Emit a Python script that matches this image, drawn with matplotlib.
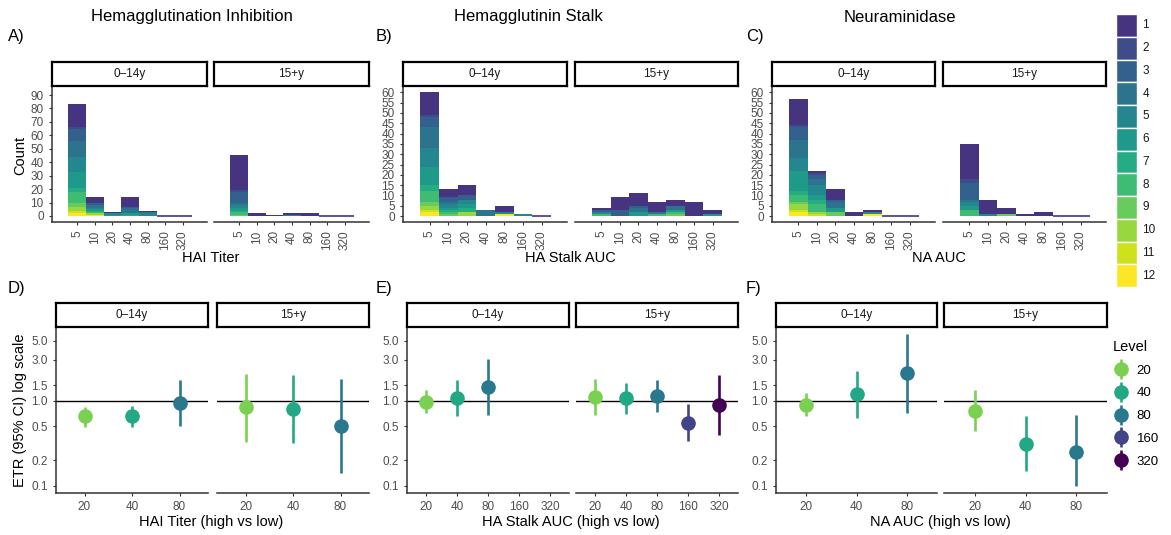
import numpy as np
import matplotlib
matplotlib.use("Agg")
import matplotlib.pyplot as plt
from matplotlib.lines import Line2D
from matplotlib.legend_handler import HandlerTuple

plt.rcParams['font.family'] = ['Liberation Sans', 'DejaVu Sans']

# ---- data -------------------------------------------------------------
bins = ["5", "10", "20", "40", "80", "160", "320"]
age_groups = ["0–14y", "15+y"]

# counts per bin, listed for levels 1..12
hai_child = [[17, 1, 9, 12, 11, 12, 3, 8, 3, 3, 2, 2],
             [4, 0, 2, 2, 1, 1, 1, 1, 0, 1, 0, 1],
             [1, 0, 0, 0, 1, 1, 0, 0, 0, 0, 0, 0],
             [7, 0, 1, 4, 0, 1, 1, 0, 0, 0, 0, 0],
             [1, 0, 0, 1, 2, 0, 0, 0, 0, 0, 0, 0],
             [0] * 12,
             [0] * 12]
hai_adult = [[26, 1, 8, 2, 2, 2, 1, 2, 1, 0, 0, 0],
             [2, 0, 0, 0, 0, 0, 0, 0, 0, 0, 0, 0],
             [1, 0, 0, 0, 0, 0, 0, 0, 0, 0, 0, 0],
             [1, 0, 0, 0, 1, 0, 0, 0, 0, 0, 0, 0],
             [2, 0, 0, 0, 0, 0, 0, 0, 0, 0, 0, 0],
             [0] * 12,
             [0] * 12]
stalk_child = [[11, 1, 5, 10, 9, 9, 3, 5, 2, 2, 1, 2],
               [4, 0, 2, 1, 2, 1, 1, 1, 1, 0, 0, 0],
               [5, 0, 2, 0, 2, 2, 2, 0, 0, 2, 0, 0],
               [0, 0, 0, 3, 0, 0, 0, 0, 0, 0, 0, 0],
               [3, 0, 0, 0, 1, 0, 0, 0, 0, 0, 0, 1],
               [0, 0, 0, 0, 1, 0, 0, 0, 0, 0, 0, 0],
               [0] * 12]
stalk_adult = [[1, 0, 1, 0, 1, 0, 0, 1, 0, 0, 0, 0],
               [6, 0, 3, 0, 0, 0, 0, 0, 0, 0, 0, 0],
               [6, 0, 1, 2, 0, 2, 0, 0, 0, 0, 0, 0],
               [5, 0, 0, 1, 0, 0, 0, 1, 0, 0, 0, 0],
               [3, 0, 0, 2, 0, 1, 0, 1, 1, 0, 0, 0],
               [7, 0, 0, 0, 0, 0, 0, 0, 0, 0, 0, 0],
               [2, 0, 0, 0, 0, 1, 0, 0, 0, 0, 0, 0]]
na_child = [[13, 1, 6, 9, 6, 10, 2, 3, 1, 3, 1, 2],
            [1, 1, 2, 3, 5, 2, 2, 4, 0, 1, 1, 0],
            [5, 0, 1, 3, 0, 2, 0, 0, 2, 0, 0, 0],
            [2, 0, 0, 0, 0, 0, 0, 0, 0, 0, 0, 0],
            [1, 0, 0, 0, 1, 0, 0, 0, 0, 0, 0, 1],
            [0] * 12,
            [0] * 12]
na_adult = [[17, 2, 8, 1, 2, 2, 0, 3, 0, 0, 0, 0],
            [7, 0, 0, 0, 1, 0, 0, 0, 0, 0, 0, 0],
            [3, 0, 0, 0, 0, 0, 0, 0, 1, 0, 0, 0],
            [1, 0, 0, 0, 0, 0, 0, 0, 0, 0, 0, 0],
            [2, 0, 0, 0, 0, 0, 0, 0, 0, 0, 0, 0],
            [0] * 12,
            [0] * 12]

# ETR estimates (95% CI) by level
hai_lv_child = ["20", "40", "80"]
hai_est_child = [0.65, 0.65, 0.93]
hai_lo_child = [0.49, 0.49, 0.51]
hai_hi_child = [0.83, 0.86, 1.74]
hai_lv_adult = ["20", "40", "80"]
hai_est_adult = [0.83, 0.79, 0.50]
hai_lo_adult = [0.33, 0.32, 0.14]
hai_hi_adult = [2.04, 1.97, 1.77]

stalk_lv_child = ["20", "40", "80"]
stalk_est_child = [0.97, 1.06, 1.45]
stalk_lo_child = [0.72, 0.65, 0.68]
stalk_hi_child = [1.33, 1.74, 3.05]
stalk_lv_adult = ["20", "40", "80", "160", "320"]
stalk_est_adult = [1.11, 1.06, 1.13, 0.55, 0.88]
stalk_lo_adult = [0.68, 0.70, 0.74, 0.34, 0.39]
stalk_hi_adult = [1.77, 1.59, 1.74, 0.91, 1.99]

na_lv_child = ["20", "40", "80"]
na_est_child = [0.88, 1.19, 2.08]
na_lo_child = [0.65, 0.63, 0.72]
na_hi_child = [1.21, 2.21, 5.94]
na_lv_adult = ["20", "40", "80"]
na_est_adult = [0.76, 0.31, 0.25]
na_lo_adult = [0.44, 0.15, 0.10]
na_hi_adult = [1.33, 0.66, 0.68]

levels = [str(i) for i in range(1, 13)]
etr_levels = ["20", "40", "80", "160", "320"]

# ---- styling ----------------------------------------------------------
vir = matplotlib.colormaps['viridis']
level_colors = [vir(v) for v in np.linspace(0.15, 1.0, 12)]
etr_colors = dict(zip(etr_levels, [vir(v) for v in [0.8, 0.6, 0.4, 0.2, 0.0]]))

W, H = 1171, 535
fig = plt.figure(figsize=(W / 100, H / 100), dpi=100)
TXT = '#4D4D4D'
AX = '#333333'


def rect(x0, y0, x1, y1):
    return [x0 / W, 1 - y1 / H, (x1 - x0) / W, (y1 - y0) / H]


def style_axes(ax, show_y):
    for s in ['top', 'right']:
        ax.spines[s].set_visible(False)
    ax.spines['bottom'].set_color(AX)
    ax.spines['bottom'].set_linewidth(1.1)
    ax.spines['left'].set_color(AX)
    ax.spines['left'].set_linewidth(1.1)
    ax.tick_params(colors=AX, labelcolor=TXT, labelsize=8.5, length=2.5, width=0.8)
    if not show_y:
        ax.spines['left'].set_visible(False)
        ax.tick_params(axis='y', left=False, labelleft=False)


def strip(x0, x1, y0, y1, label):
    s = fig.add_axes(rect(x0, y0, x1, y1))
    s.set_xticks([])
    s.set_yticks([])
    s.set_facecolor('white')
    for sp in s.spines.values():
        sp.set_linewidth(1.6)
        sp.set_color('black')
    s.text(0.5, 0.5, label, ha='center', va='center', fontsize=8.5,
           color='#1A1A1A', transform=s.transAxes)


def hist_panel(x0, x1, counts, show_y, yticks, ylim):
    ax = fig.add_axes(rect(x0, 86, x1, 222))
    pos = np.arange(len(bins))
    arr = np.array(counts)
    bottom = np.zeros(len(bins))
    for lv in range(11, -1, -1):
        ax.bar(pos, arr[:, lv], width=1.0, bottom=bottom,
               color=level_colors[lv], linewidth=0)
        bottom += arr[:, lv]
    empty = arr.sum(axis=1) == 0
    ax.bar(pos[empty], np.zeros(empty.sum()), width=1.0,
           edgecolor=level_colors[0], linewidth=1.2)
    ax.set_xlim(-1.42, 7.36)
    ax.set_ylim(*ylim)
    ax.set_xticks(pos)
    ax.set_xticklabels(bins, rotation=90)
    ax.set_yticks(yticks)
    style_axes(ax, show_y)
    return ax


def etr_panel(x0, x1, cats, lv, est, lo, hi, show_y):
    ax = fig.add_axes(rect(x0, 327, x1, 493))
    xs = [cats.index(v) for v in lv]
    ax.axhline(1.0, color='black', linewidth=1.0, zorder=1)
    for x, l, e, a, b in zip(xs, lv, est, lo, hi):
        ax.vlines(x, a, b, color=etr_colors[l], linewidth=1.9, zorder=2)
        ax.plot(x, e, 'o', color=etr_colors[l], markersize=9.5, zorder=3)
    ax.set_yscale('log')
    ax.set_ylim(0.0828, 7.24)
    ax.set_xlim(-0.6, len(cats) - 0.4)
    ax.set_xticks(range(len(cats)))
    ax.set_xticklabels(cats)
    yt = [0.1, 0.2, 0.5, 1.0, 1.5, 3.0, 5.0]
    ax.set_yticks(yt)
    ax.set_yticklabels([f"{v:.1f}" for v in yt])
    ax.minorticks_off()
    style_axes(ax, show_y)
    return ax


# ---- top row: histograms ---------------------------------------------
top = [
    ("Hemagglutination Inhibition", "HAI Titer", hai_child, hai_adult,
     np.arange(0, 91, 10), (-4.47, 96.7), (52, 207, 214, 369), 192, 211, 8),
    ("Hemagglutinin Stalk", "HA Stalk AUC", stalk_child, stalk_adult,
     np.arange(0, 61, 5), (-2.9, 63.1), (403, 567, 575, 738), 528, 570, 376),
    ("Neuraminidase", "NA AUC", na_child, na_adult,
     np.arange(0, 61, 5), (-2.9, 63.1), (772, 935, 943, 1106), 900, 939, 746),
]
for k, (title, xlab, ch, ad, yt, yl, (a0, a1, b0, b1), tx, lx, tagx) in enumerate(top):
    hist_panel(a0, a1, ch, True, yt, yl)
    hist_panel(b0, b1, ad, False, yt, yl)
    strip(a0, a1, 62, 86, age_groups[0])
    strip(b0, b1, 62, 86, age_groups[1])
    fig.text(tx / W, 1 - 17 / H, title, ha='center', va='center', fontsize=12)
    fig.text(tagx / W, 1 - 36 / H, "ABC"[k] + ")", ha='left', va='center', fontsize=12)
    fig.text(lx / W, 1 - 258 / H, xlab, ha='center', va='center', fontsize=10.5)
fig.text(20 / W, 1 - 155 / H, "Count", rotation=90, ha='center', va='center', fontsize=10.5)

# ---- bottom row: ETR --------------------------------------------------
bottom_specs = [
    ("HAI Titer (high vs low)", ["20", "40", "80"],
     (hai_lv_child, hai_est_child, hai_lo_child, hai_hi_child),
     (hai_lv_adult, hai_est_adult, hai_lo_adult, hai_hi_adult),
     (56, 208, 217, 369), 211, 8),
    ("HA Stalk AUC (high vs low)", etr_levels,
     (stalk_lv_child, stalk_est_child, stalk_lo_child, stalk_hi_child),
     (stalk_lv_adult, stalk_est_adult, stalk_lo_adult, stalk_hi_adult),
     (407, 569, 576, 738), 571, 376),
    ("NA AUC (high vs low)", ["20", "40", "80"],
     (na_lv_child, na_est_child, na_lo_child, na_hi_child),
     (na_lv_adult, na_est_adult, na_lo_adult, na_hi_adult),
     (776, 937, 944, 1107), 940, 746),
]
for k, (xlab, cats, ch, ad, (a0, a1, b0, b1), lx, tagx) in enumerate(bottom_specs):
    etr_panel(a0, a1, cats, *ch, True)
    etr_panel(b0, b1, cats, *ad, False)
    strip(a0, a1, 303, 327, age_groups[0])
    strip(b0, b1, 303, 327, age_groups[1])
    fig.text(tagx / W, 1 - 288 / H, "DEF"[k] + ")", ha='left', va='center', fontsize=12)
    fig.text(lx / W, 1 - 522 / H, xlab, ha='center', va='center', fontsize=10.5)
fig.text(20 / W, 1 - 410 / H, "ETR (95% CI) log scale", rotation=90,
         ha='center', va='center', fontsize=10.5)

# ---- legends ----------------------------------------------------------
lg = fig.add_axes(rect(1116, 14, 1137, 287))
for i, lv in enumerate(levels):
    lg.bar(0, 1, bottom=i, width=1, color=level_colors[i], edgecolor='white', linewidth=1)
    lg.text(0.75, i + 0.5, lv, ha='left', va='center', fontsize=8.5, color='#1A1A1A',
            transform=lg.transData)
lg.set_xlim(-0.5, 0.5)
lg.set_ylim(12, 0)
lg.axis('off')

handles = [(Line2D([], [], marker='|', linestyle='none', markersize=15,
                   markeredgewidth=1.9, color=etr_colors[l]),
            Line2D([], [], marker='o', linestyle='none', markersize=9.5,
                   color=etr_colors[l])) for l in etr_levels]
leg = fig.legend(handles, etr_levels, loc='upper left',
                 bbox_to_anchor=(1101 / W, 1 - 328 / H), frameon=False,
                 title="Level", title_fontsize=10.5, fontsize=9.5,
                 handler_map={tuple: HandlerTuple(ndivide=1, pad=0)},
                 handlelength=1.3, labelspacing=0.8, handletextpad=0.5,
                 alignment='left')

fig.savefig("out.png", dpi=100)
